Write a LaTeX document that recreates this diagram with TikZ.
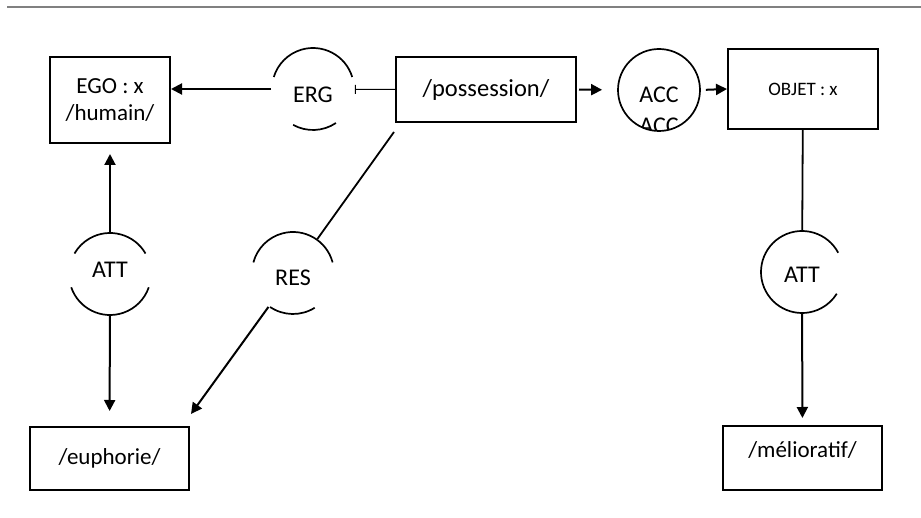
\documentclass[tikz,border=0pt]{standalone}
\usepackage{fontspec}
\setmainfont{Carlito}
\usetikzlibrary{arrows.meta}
\tikzset{
	box/.style={draw,line width=2pt,inner sep=0pt,align=center,font=\fontsize{23}{27}\selectfont},
	rel/.style={circle,minimum size=82pt,inner sep=0pt,text depth=0pt,font=\fontsize{24}{28}\selectfont},
	arr/.style={line width=2pt,-{Triangle[length=11pt,width=11pt]}}
}
\begin{document}
\begin{tikzpicture}[x=1pt,y=1pt,line width=1.8pt]
	\useasboundingbox (0,0) rectangle (921,517);
	\draw[gray,line width=1.5pt] (7,510) -- (921,510);
	% boxes
	\node[box,minimum width=120pt,minimum height=86pt] (ego) at (110,417) {EGO : x\\/humain/};
	\node[box,minimum width=180pt,minimum height=65pt,font=\fontsize{24.5}{28}\selectfont] (poss) at (486,427.5) {/possession/};
	\node[box,minimum width=150pt,minimum height=80pt,font=\fontsize{19}{22}\selectfont] (objet) at (803,428) {OBJET : x};
	\node[box,minimum width=159pt,minimum height=63pt] (euph) at (109.5,58.5) {/euphorie/};
	\node[box,minimum width=159pt,minimum height=64pt,text depth=17pt] (melio) at (802.5,59) {/mélioratif/};
	% relations
	\node[rel,text height=28pt] (erg) at (313,428) {ERG};
	\node[rel,text height=26pt] (acc) at (659,427) {ACC};
	\node[rel,text height=15.5pt,text depth=8pt] (attl) at (110,243) {ATT};
	\node[rel,text height=26pt] (res) at (293,244) {RES};
	\node[rel,text height=21.5pt] (attr) at (802,245) {ATT};
	\foreach \n/\a/\b in {erg/17/163,erg/241/304,attl/30/150,attl/199/341,res/15/165,res/236/302,attr/28/328,acc/0/360}
		\draw[line width=1.7pt] (\n.center) ++(\a:41) arc[start angle=\a,end angle=\b,radius=41];
	\begin{scope}
		\clip (acc.center) circle (41);
		\node[rel,text height=26pt] (accb) at ([yshift=-31pt]acc.center) {ACC};
	\end{scope}
	% links
	\draw[line width=1pt,-{Bar[width=9pt]}] (poss.west) -- (erg);
	\draw[arr] (erg) -- (erg -| ego.east);
	\draw[arr,shorten <=2pt,shorten >=15pt] (poss.east) -- (acc.west);
	\draw[arr,shorten <=5pt] (acc.east) -- (objet.west);
	\draw (objet) -- (attr);
	\draw[arr,shorten >=7pt] (attr) -- (melio);
	\draw[arr,shorten >=10pt] (attl) -- (ego);
	\draw[arr,shorten >=15pt] (attl) -- (euph);
	\coordinate (pstart) at ([shift={(-1pt,-9pt)}]poss.south west);
	\coordinate (etip) at ([shift={(1pt,12pt)}]euph.north east);
	\draw (pstart) -- (res);
	\draw[arr] (res) -- (etip);
\end{tikzpicture}
\end{document}
